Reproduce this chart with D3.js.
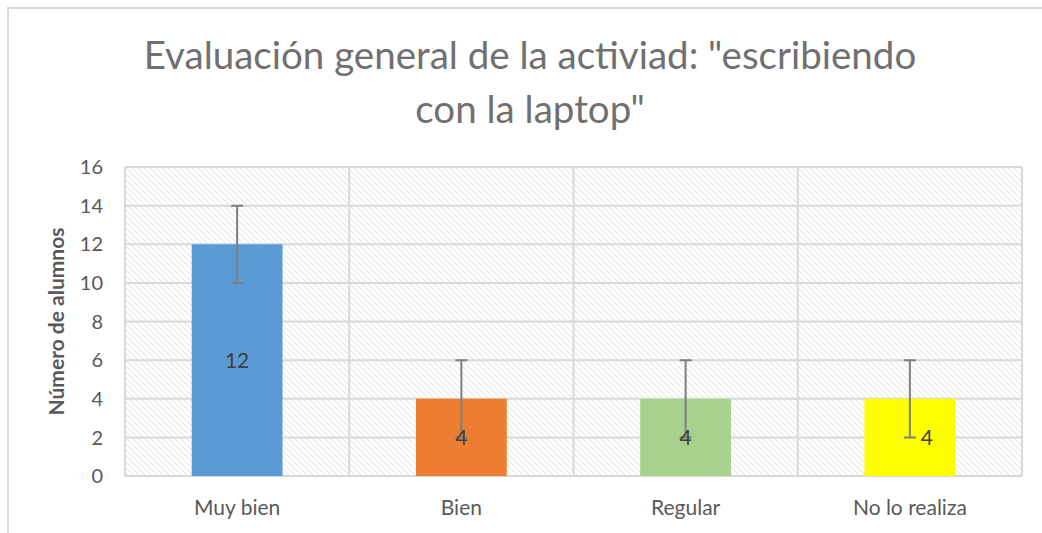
<!DOCTYPE html>
<html>
<head>
<meta charset="utf-8">
<script src="https://cdn.jsdelivr.net/npm/d3@7/dist/d3.min.js"></script>
<style>
  body { margin: 0; background: #fff; }
  svg { display: block; font-family: Lato, "Open Sans", sans-serif; }
</style>
</head>
<body>
<svg id="chart"></svg>
<script>
const width = 1042, height = 533;

// datos
const categories = ["Muy bien", "Bien", "Regular", "No lo realiza"];
const values = [12, 4, 4, 4];
const errors = [2, 2, 2, 2];
const colors = ["#5B9BD5", "#ED7D31", "#A9D18E", "#FFFF00"];
const yTicks = [0, 2, 4, 6, 8, 10, 12, 14, 16];
const titleLines = ['Evaluación general de la activiad: "escribiendo', 'con la laptop"'];
const yTitle = "Número de alumnos";

const m = { left: 125, right: 20, top: 167, bottom: 57 };

const svg = d3.select("#chart").attr("width", width).attr("height", height);

// borde del área del gráfico
svg.append("path")
  .attr("d", `M8,${height} V8 H${width}`)
  .attr("fill", "none")
  .attr("stroke", "#d9d9d9")
  .attr("stroke-width", 2);

// patrón rayado del fondo
const defs = svg.append("defs");
const pat = defs.append("pattern")
  .attr("id", "hatch")
  .attr("patternUnits", "userSpaceOnUse")
  .attr("width", 6).attr("height", 6);
pat.append("rect").attr("width", 6).attr("height", 6).attr("fill", "#fff");
pat.append("path")
  .attr("d", "M-1,-1 L7,7 M-1,5 L1,7 M5,-1 L7,1")
  .attr("stroke", "#dedede")
  .attr("stroke-width", 1);

const x = d3.scaleBand()
  .domain(categories)
  .range([m.left, width - m.right])
  .paddingInner(0.595)
  .paddingOuter(0.2975);

const step = x.step();
const y = d3.scaleLinear().domain([0, 16]).range([height - m.bottom, m.top]);

svg.append("rect")
  .attr("x", m.left).attr("y", m.top)
  .attr("width", width - m.left - m.right)
  .attr("height", height - m.top - m.bottom)
  .attr("fill", "url(#hatch)");

// rejilla
svg.append("g")
  .selectAll("line")
  .data(yTicks)
  .join("line")
  .attr("x1", m.left).attr("x2", width - m.right)
  .attr("y1", d => y(d)).attr("y2", d => y(d))
  .attr("stroke", "#d9d9d9").attr("stroke-width", 2);

const bounds = categories.map(c => x(c) - step * 0.2975).concat([width - m.right]);
svg.append("g")
  .selectAll("line")
  .data(bounds)
  .join("line")
  .attr("x1", d => d).attr("x2", d => d)
  .attr("y1", m.top).attr("y2", height - m.bottom)
  .attr("stroke", "#d9d9d9").attr("stroke-width", 2);

// barras
svg.append("g")
  .selectAll("rect")
  .data(categories)
  .join("rect")
  .attr("x", d => x(d))
  .attr("width", x.bandwidth())
  .attr("y", (d, i) => y(values[i]))
  .attr("height", (d, i) => y(0) - y(values[i]))
  .attr("fill", (d, i) => colors[i]);

// barras de error
const eb = svg.append("g").attr("stroke", "#7f7f7f").attr("stroke-width", 2).attr("fill", "none");
categories.forEach((c, i) => {
  const cx = x(c) + x.bandwidth() / 2;
  const lo = y(values[i] - errors[i]), hi = y(values[i] + errors[i]);
  eb.append("path")
    .attr("d", `M${cx},${lo} V${hi} M${cx - 6},${hi} H${cx + 6} M${cx - 6},${lo} H${cx + 6}`);
});

// etiquetas de datos
svg.append("g")
  .selectAll("text")
  .data(categories)
  .join("text")
  .attr("x", (d, i) => x(d) + x.bandwidth() / 2 + (i === 3 ? 17 : 0))
  .attr("y", (d, i) => y(values[i] / 2))
  .attr("dy", "0.36em")
  .attr("text-anchor", "middle")
  .attr("font-size", 21)
  .attr("fill", "#404040")
  .text((d, i) => values[i]);

// eje y
svg.append("g")
  .selectAll("text")
  .data(yTicks)
  .join("text")
  .attr("x", 103)
  .attr("y", d => y(d))
  .attr("dy", "0.36em")
  .attr("text-anchor", "end")
  .attr("font-size", 20)
  .attr("fill", "#595959")
  .text(d => d);

// eje x
svg.append("g")
  .selectAll("text")
  .data(categories)
  .join("text")
  .attr("x", d => x(d) + x.bandwidth() / 2)
  .attr("y", 515)
  .attr("text-anchor", "middle")
  .attr("font-size", 21)
  .attr("fill", "#595959")
  .text(d => d);

svg.append("text")
  .attr("transform", `translate(64, ${(m.top + height - m.bottom) / 2}) rotate(-90)`)
  .attr("text-anchor", "middle")
  .attr("font-size", 21)
  .attr("font-weight", "bold")
  .attr("fill", "#595959")
  .text(yTitle);

// título
svg.append("g")
  .selectAll("text")
  .data(titleLines)
  .join("text")
  .attr("x", 530)
  .attr("y", (d, i) => 69 + i * 54)
  .attr("text-anchor", "middle")
  .attr("font-size", 38.5)
  .attr("fill", "#707070")
  .text(d => d);
</script>
</body>
</html>
